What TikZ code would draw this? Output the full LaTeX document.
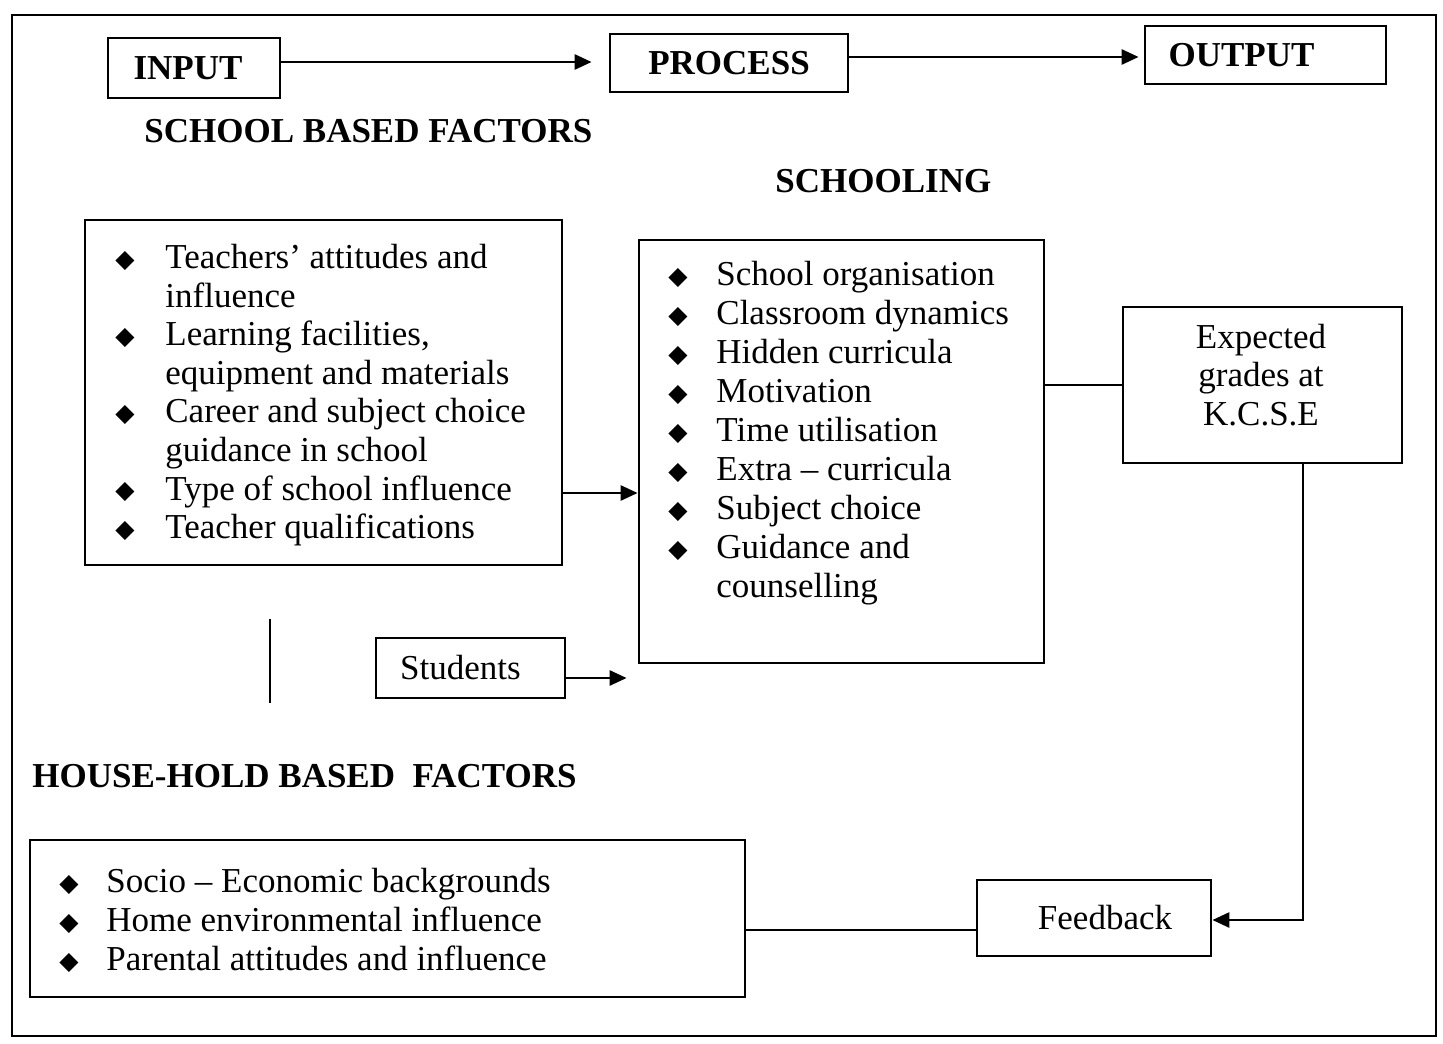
\documentclass[tikz,border=0pt]{standalone}
\usepackage{fontspec}
\setmainfont{Liberation Serif}
\newfontfamily\dvsans{DejaVu Sans}
\usetikzlibrary{arrows.meta}
\newcommand\bul{\raisebox{0.6pt}{\dvsans\fontsize{12.5}{12.5}\selectfont ◆}}
\begin{document}
\begin{tikzpicture}[x=0.5pt,y=-0.5pt,
  box/.style={draw, line width=1.4pt, rectangle, inner sep=0pt},
  ttl/.style={font=\fontsize{17.5}{20}\selectfont\bfseries},
  txt/.style={font=\fontsize{17.5}{19.3}\selectfont},
  txtb/.style={font=\fontsize{17.5}{19.5}\selectfont},
  lst/.style={inner sep=0pt, anchor=north west, align=left},
  conn/.style={line width=1.4pt},
  arr/.style={conn, -{Triangle[length=8.5pt,width=7.5pt]}},
]
\useasboundingbox (0,0) rectangle (1443,1043);
\draw[line width=1.3pt] (12,15) rectangle (1436,1036);

% top row
\node[box, ttl, minimum width=86pt, minimum height=30pt] (input) at (194,68) {INPUT\kern6pt};
\node[box, ttl, minimum width=119pt, minimum height=29pt] (process) at (729,63) {PROCESS};
\node[box, ttl, minimum width=120.5pt, minimum height=29pt] (output) at (1265.5,55) {OUTPUT\kern24pt};
\draw[arr, shorten >=8.5pt] ([yshift=3pt]input.east) -- ([yshift=0.5pt]process.west);
\draw[arr, shorten >=2.5pt] ([yshift=3pt]process.east) -- ([yshift=-1pt]output.west);

% titles
\node[ttl, anchor=base west, inner sep=0pt] (sbf) at (144,143) {SCHOOL BASED FACTORS};
\node[ttl, anchor=base west, inner sep=0pt] (sch) at (775,192) {SCHOOLING};
\node[ttl, anchor=base west, inner sep=0pt] (hbf) at (32,787) {HOUSE-HOLD BASED~~FACTORS};

% school based factors
\node[box, minimum width=238.5pt, minimum height=172.5pt] (school) at (323.5,392.5) {};
\node[lst, txt] (schoollist) at (115,241) {\begin{tabular}{@{}p{25pt}@{}l@{}}
\bul & Teachers’ attitudes and\\
 & influence\\
\bul & Learning facilities,\\
 & equipment and materials\\
\bul & Career and subject choice\\
 & guidance in school\\
\bul & Type of school influence\\
\bul & Teacher qualifications
\end{tabular}};

% schooling
\node[box, minimum width=202.5pt, minimum height=211.5pt] (schooling) at (841.5,451.5) {};
\node[lst, txtb] (schoolinglist) at (668,258) {\begin{tabular}{@{}p{24pt}@{}l@{}}
\bul & School organisation\\
\bul & Classroom dynamics\\
\bul & Hidden curricula\\
\bul & Motivation\\
\bul & Time utilisation\\
\bul & Extra – curricula\\
\bul & Subject choice\\
\bul & Guidance and\\
 & counselling
\end{tabular}};

% expected grades
\node[box, minimum width=139.5pt, minimum height=78pt] (expected) at (1262.5,385) {};
\node[txt, align=center, inner sep=0pt] (exptext) at (1261,375) {Expected\\grades at\\K.C.S.E};

% students
\node[box, txt, minimum width=94.5pt, minimum height=30pt] (students) at (470.5,668) {Students\kern10pt};

% household
\node[box, minimum width=357.5pt, minimum height=78.5pt] (household) at (387.5,918.5) {};
\node[lst, txtb] (householdlist) at (59,865) {\begin{tabular}{@{}p{23.5pt}@{}l@{}}
\bul & Socio – Economic backgrounds\\
\bul & Home environmental influence\\
\bul & Parental attitudes and influence
\end{tabular}};

% feedback
\node[box, txt, minimum width=117pt, minimum height=38pt] (feedback) at (1094,918) {\kern11pt Feedback};

% connectors
\coordinate (sa) at ([yshift=-50.25pt]school.east);
\draw[arr] (sa) -- (sa -| schooling.west);
\coordinate (st) at ([yshift=-5pt]students.east);
\draw[arr, shorten >=5.5pt] (st) -- (st -| schooling.west);
\draw[conn] (expected.west -| schooling.east) -- (expected.west);
\coordinate (eb) at ([xshift=20.25pt]expected.south);
\draw[arr] (eb) |- ([yshift=-1pt]feedback.east);
\coordinate (fw) at ([yshift=-6pt]feedback.west);
\draw[conn] (fw) -- (fw -| household.east);
\coordinate (vt) at (270,619);
\coordinate (vb) at (270,703);
\draw[conn] (vt) -- (vb);
\end{tikzpicture}
\end{document}
